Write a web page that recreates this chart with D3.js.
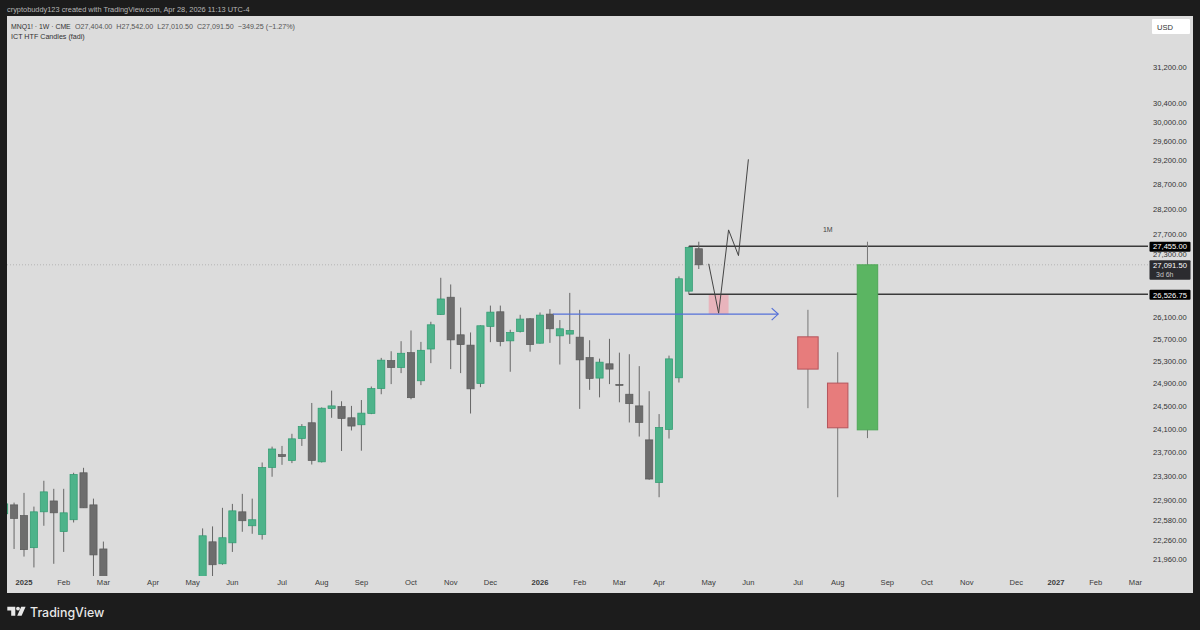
<!DOCTYPE html>
<html><head><meta charset="utf-8">
<script src="https://cdn.jsdelivr.net/npm/d3@7"></script>
<style>html,body{margin:0;padding:0;background:#1c1c1c}svg{display:block}text{font-family:"Liberation Sans",Arial,sans-serif}</style>
</head><body><svg id="c" width="1200" height="630"></svg>
<script>
// ---- data ----
const weeks = [-1,0,1,2,3,4,5,6,7,8,9,19,20,21,22,23,24,25,26,27,28,29,30,31,32,33,34,35,36,37,38,39,40,41,42,43,44,45,46,47,48,49,50,51,52,53,54,55,56,57,58,59,60,61,62,63,64,65,66,67,68,69];
const opens = [22680,22825,22653,22138,22712,22889,22393,22584,23354,22825,22118,21480,22231,21885,22215,22712,22487,22348,23443,23659,23559,23932,24203,23537,24449,24483,24289,24168,24363,24801,25302,25176,25445,24939,25511,26147,26472,25771,25582,24891,25925,26198,25660,25832,26068,25617,26155,25752,25784,25728,25355,24987,25243,24875,24701,24496,23909,23192,24087,24992,26587,27404];
const highs = [22905,22862,23021,22797,23221,23088,23088,23354,23437,22927,22235,22445,22477,22777,22841,23005,22927,23526,23794,23806,24013,24180,24547,24470,24765,24577,24496,24599,24837,25350,25470,25654,25851,25641,26012,26842,26714,26277,25814,25945,26314,26314,25864,26142,26081,26185,26248,26044,26554,26235,25672,25337,25697,25445,25416,25201,24754,24353,25391,26868,27455,27542];
const lows = [22584,22118,21998,21828,22487,21885,22071,22540,22775,21637,21400,21400,21640,21870,22071,22391,22359,22267,23288,23487,23516,23806,23492,23526,24289,23720,24070,23725,24352,24701,24880,25076,24612,24862,25255,26140,25148,25076,24363,24826,25636,25561,25100,25814,25463,25610,25623,25230,25604,24444,24778,24646,24880,24559,24208,23966,23238,22950,23932,24908,26526.75,27010.5];
const closes = [22841,22605,22107,22712,23038,22696,22696,23326,22777,22024,21513,22327,21870,22296,22728,22568,22584,23443,23754,23626,23927,24139,23559,24456,24496,24277,24146,24370,24801,25309,25176,25434,24640,25488,25956,26439,25678,25591,24796,25938,26192,25647,25814,26062,25591,26136,25882,25882,25851,25314,24980,25273,25148,24858,24535,24208,23250,24122,25332,26823,27432,27091.5];

const htfWeeks = [80,83,86];
const htfOpens = [25734,24898,24081];
const htfHighs = [26235,25452,27542];
const htfLows = [24456,22950,23939];
const htfCloses = [25148,24116,27091.5];

const pathWeeks = [70,71,72,73,74];
const pathPrices = [27111,26173,27775,27270,29210];
const zoneWeeks = [70,72];
const zonePrices = [26526.75,26155];
const arrowWeeks = [54.3,77];
const arrowPrice = 26155;
const levelPrices = [27455,26526.75];
const levelLabels = ["27,455.00","26,526.75"];
const levelStartWeek = 68;
const lastPrice = 27091.5;

const priceTicks = [31200,30400,30000,29600,29200,28700,28200,27700,27300,26100,25700,25300,24900,24500,24100,23700,23300,22900,22580,22260,21960];
const timeWeeks = [1,5,9,14,18,22,27,31,35,40,44,48,53,57,61,65,70,74,79,83,88,92,96,101,105,109,113];
const timeLabels = ["2025","Feb","Mar","Apr","May","Jun","Jul","Aug","Sep","Oct","Nov","Dec","2026","Feb","Mar","Apr","May","Jun","Jul","Aug","Sep","Oct","Nov","Dec","2027","Feb","Mar"];
const yearLabels = ["2025","2026","2027"];

const headerText = "cryptobuddy123 created with TradingView.com, Apr 28, 2026 11:13 UTC-4";
const symbolText = "MNQ1! · 1W · CME";
const ohlcText = "O27,404.00  H27,542.00  L27,010.50  C27,091.50  −349.25 (−1.27%)";
const indicatorText = "ICT HTF Candles (fadi)";

// ---- layout ----
const L=7,T=16,R=1193,B=593,AXX=1148,AXY=576;
const svg=d3.select("#c");
const x=d3.scaleLinear().domain([1,113]).range([24,1135.4]);
const y=d3.scaleLog().domain([31200,21960]).range([67,559]);
const wk=x(1)-x(0);

svg.append("rect").attr("width",1200).attr("height",630).attr("fill","#1c1c1c");
svg.append("rect").attr("x",L).attr("y",T).attr("width",R-L).attr("height",B-T).attr("fill","#dcdcdc");
svg.append("defs").append("clipPath").attr("id","plot").append("rect").attr("x",L).attr("y",T).attr("width",AXX-L).attr("height",AXY-T);
const g=svg.append("g").attr("clip-path","url(#plot)");

// last price dotted line
g.append("line").attr("x1",L).attr("x2",AXX).attr("y1",y(lastPrice)).attr("y2",y(lastPrice))
 .attr("stroke","#b4b4b4").attr("stroke-width",1).attr("stroke-dasharray","1 2");

// zone
g.append("rect").attr("x",x(zoneWeeks[0])).attr("width",x(zoneWeeks[1])-x(zoneWeeks[0]))
 .attr("y",y(zonePrices[0])).attr("height",y(zonePrices[1])-y(zonePrices[0])).attr("fill","#e8b4bc");

// levels
levelPrices.forEach(p=>{
  g.append("line").attr("x1",x(levelStartWeek)).attr("x2",AXX+2).attr("y1",y(p)).attr("y2",y(p))
   .attr("stroke","#3a3a3a").attr("stroke-width",1.5);
});

// weekly candles
const data=weeks.map((w,i)=>({w,o:opens[i],h:highs[i],l:lows[i],c:closes[i]}));
const GREEN="#4db38a",GREENB="#2f9a70",GRAY="#6d6d6d",GRAYB="#5a5a5a";
const cs=g.selectAll("g.c").data(data).join("g").attr("class","c");
cs.append("line").attr("x1",d=>x(d.w)).attr("x2",d=>x(d.w)).attr("y1",d=>y(d.h)).attr("y2",d=>y(d.l))
  .attr("stroke","#666").attr("stroke-width",1);
cs.append("rect").attr("x",d=>x(d.w)-3.6).attr("width",7.2)
  .attr("y",d=>y(Math.max(d.o,d.c))).attr("height",d=>Math.max(1,Math.abs(y(d.o)-y(d.c))))
  .attr("fill",d=>d.c>=d.o?GREEN:GRAY).attr("stroke",d=>d.c>=d.o?GREENB:GRAYB).attr("stroke-width",0.7);

// arrow
const ay=y(arrowPrice), ax=x(arrowWeeks[1]);
g.append("line").attr("x1",x(arrowWeeks[0])).attr("x2",ax).attr("y1",ay).attr("y2",ay).attr("stroke","#5470d8").attr("stroke-width",1.3);
g.append("path").attr("d",d3.line()([[ax-6.5,ay-6],[ax,ay],[ax-6.5,ay+6]])).attr("fill","none").attr("stroke","#5470d8").attr("stroke-width",1.2);

// HTF candles
const hd=htfWeeks.map((w,i)=>({w,o:htfOpens[i],h:htfHighs[i],l:htfLows[i],c:htfCloses[i]}));
const hs=g.selectAll("g.h").data(hd).join("g").attr("class","h");
hs.append("line").attr("x1",d=>x(d.w)).attr("x2",d=>x(d.w)).attr("y1",d=>y(d.h)).attr("y2",d=>y(d.l)).attr("stroke","#777").attr("stroke-width",1);
hs.append("rect").attr("x",d=>x(d.w)-wk*1.03).attr("width",wk*2.06)
  .attr("y",d=>y(Math.max(d.o,d.c))).attr("height",d=>Math.abs(y(d.o)-y(d.c)))
  .attr("fill",d=>d.c>=d.o?"#5bb562":"#e77c7c").attr("stroke",d=>d.c>=d.o?"#4fa857":"#b5555c").attr("stroke-width",1);
g.append("text").attr("x",x(82)).attr("y",y(27775)+2.5).attr("text-anchor","middle").attr("font-size",7).attr("fill","#444").text("1M");

// drawn path
g.append("path").attr("d",d3.line().x(d=>x(d[0])).y(d=>y(d[1]))(pathWeeks.map((w,i)=>[w,pathPrices[i]])))
 .attr("fill","none").attr("stroke","#444").attr("stroke-width",1);

// axes
const yAxis=d3.axisRight(y).tickValues(priceTicks).tickSize(0).tickPadding(0).tickFormat(d3.format(",.2f"));
const ya=svg.append("g").attr("transform",`translate(1153,0)`).call(yAxis);
ya.select(".domain").remove();
ya.selectAll("text").attr("font-size",7.6).attr("fill","#333").style("font-family",'"Liberation Sans",Arial,sans-serif');

const xAxis=d3.axisBottom(x).tickValues(timeWeeks).tickSize(0).tickPadding(0).tickFormat((d,i)=>timeLabels[i]);
const xa=svg.append("g").attr("transform",`translate(-0.5,580)`).call(xAxis);
xa.select(".domain").remove();
xa.selectAll("text").attr("font-size",7.6).attr("fill","#3a3a3a").style("font-family",'"Liberation Sans",Arial,sans-serif')
  .attr("font-weight",(d,i)=>yearLabels.includes(timeLabels[i])?"700":"400");

// price tags
function tag(p,label,bg,h){
  const c=y(p)+0.5;
  svg.append("rect").attr("x",1149.5).attr("y",c-h/2).attr("width",41).attr("height",h).attr("fill",bg).attr("rx",1);
  svg.append("text").attr("x",1170).attr("y",c+2.8).attr("text-anchor","middle").attr("font-size",7.6).attr("fill","#fff").text(label);
}
tag(levelPrices[0],levelLabels[0],"#000",10);
tag(levelPrices[1],levelLabels[1],"#000",10);
const ly=y(lastPrice);
svg.append("rect").attr("x",1149.5).attr("y",ly-4.5).attr("width",41).attr("height",19.5).attr("fill","#2b2b2f").attr("rx",1);
svg.append("text").attr("x",1170).attr("y",ly+3).attr("text-anchor","middle").attr("font-size",7.6).attr("fill","#fff").text("27,091.50");
svg.append("text").attr("x",1156).attr("y",ly+11.7).attr("font-size",7).attr("fill","#c4c4c4").text("3d 6h");

// USD box
svg.append("rect").attr("x",1152).attr("y",19).attr("width",38).attr("height",15).attr("fill","#fff").attr("rx",1);
svg.append("text").attr("x",1157).attr("y",29.5).attr("font-size",7.6).attr("fill","#333").text("USD");

// headers
svg.append("text").attr("x",7).attr("y",12).attr("font-size",7.4).attr("fill","#b8b8b8").text(headerText);
svg.append("text").attr("x",11).attr("y",29).attr("font-size",6.9).attr("fill","#333").text(symbolText);
svg.append("text").attr("x",75).attr("y",29).attr("font-size",7.15).attr("fill","#555").style("white-space","pre").text(ohlcText);
svg.append("text").attr("x",11).attr("y",39).attr("font-size",7.15).attr("fill","#333").text(indicatorText);

// logo
svg.append("path").attr("fill","#e8e8e8").attr("d","M7.3 606.7H15.3V615.7H11.2V610.6H7.3Z M21.2 606.7H25.6L21.6 615.7H17.2Z");
svg.append("circle").attr("cx",18).attr("cy",608.6).attr("r",1.9).attr("fill","#e8e8e8");
svg.append("text").attr("x",30).attr("y",616.5).attr("font-size",12.4).attr("font-weight",500).attr("fill","#e8e8e8").style("font-family","Inter,Roboto,sans-serif").text("TradingView");
</script></body></html>
